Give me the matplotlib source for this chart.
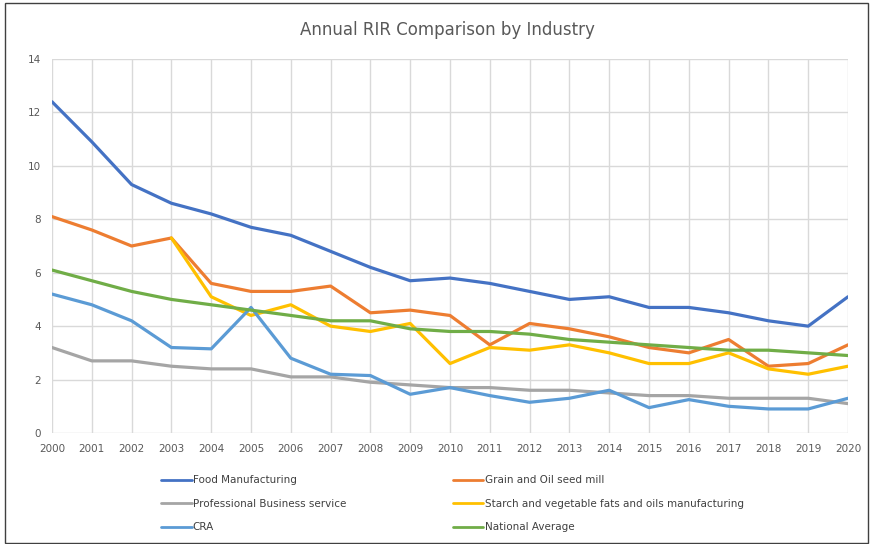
import numpy as np
import matplotlib.pyplot as plt
from matplotlib.patches import Rectangle

# данные
years = list(range(2000, 2021))
food = [12.4, 10.9, 9.3, 8.6, 8.2, 7.7, 7.4, 6.8, 6.2, 5.7, 5.8, 5.6, 5.3, 5.0, 5.1, 4.7, 4.7, 4.5, 4.2, 4.0, 5.1]
grain = [8.1, 7.6, 7.0, 7.3, 5.6, 5.3, 5.3, 5.5, 4.5, 4.6, 4.4, 3.3, 4.1, 3.9, 3.6, 3.2, 3.0, 3.5, 2.5, 2.6, 3.3]
prof = [3.2, 2.7, 2.7, 2.5, 2.4, 2.4, 2.1, 2.1, 1.9, 1.8, 1.7, 1.7, 1.6, 1.6, 1.5, 1.4, 1.4, 1.3, 1.3, 1.3, 1.1]
starch = [np.nan, np.nan, np.nan, 7.3, 5.1, 4.4, 4.8, 4.0, 3.8, 4.1, 2.6, 3.2, 3.1, 3.3, 3.0, 2.6, 2.6, 3.0, 2.4, 2.2, 2.5]
cra = [5.2, 4.8, 4.2, 3.2, 3.15, 4.7, 2.8, 2.2, 2.15, 1.45, 1.7, 1.4, 1.15, 1.3, 1.6, 0.95, 1.25, 1.0, 0.9, 0.9, 1.3]
national = [6.1, 5.7, 5.3, 5.0, 4.8, 4.6, 4.4, 4.2, 4.2, 3.9, 3.8, 3.8, 3.7, 3.5, 3.4, 3.3, 3.2, 3.1, 3.1, 3.0, 2.9]

labels = ['Food Manufacturing', 'Grain and Oil seed mill', 'Professional Business service',
          'Starch and vegetable fats and oils manufacturing', 'CRA', 'National Average']
series = [food, grain, prof, starch, cra, national]
colors = ['#4472C4', '#ED7D31', '#A5A5A5', '#FFC000', '#5B9BD5', '#70AD47']

fig = plt.figure(figsize=(8.75, 5.44), dpi=100)
ax = fig.add_axes([52 / 875, 1 - 433 / 544, 796 / 875, 374 / 544])

lines = []
for vals, lab, c in zip(series, labels, colors):
    ln, = ax.plot(years, vals, color=c, lw=2.3, label=lab, solid_capstyle='round')
    lines.append(ln)

ax.set_xlim(2000, 2020)
ax.set_ylim(0, 14)
ax.set_xticks(years)
ax.set_yticks(range(0, 15, 2))
ax.tick_params(length=0, labelsize=7.5, colors='#595959', pad=8)
ax.grid(True, color='#D9D9D9', lw=1)
ax.set_axisbelow(True)
for s in ax.spines.values():
    s.set_visible(False)

fig.text(447 / 875, 1 - 30 / 544, 'Annual RIR Comparison by Industry',
         ha='center', va='center', fontsize=12, color='#595959')

# порядок легенды: по строкам, как в Excel
order = [0, 2, 4, 1, 3, 5]
leg = fig.legend([lines[i] for i in order], [labels[i] for i in order],
                 ncol=2, loc='upper left', bbox_to_anchor=(152 / 875, 1 - 466 / 544),
                 frameon=False, fontsize=7.5, handlelength=2.9, handletextpad=0.1,
                 columnspacing=10.3, labelspacing=1.3)
for t in leg.get_texts():
    t.set_color('#404040')
for h in leg.legend_handles:
    h.set_linewidth(2)

# рамка вокруг диаграммы
fig.add_artist(Rectangle((5 / 875, 0.002), 863 / 875, 0.993, transform=fig.transFigure,
                         fill=False, ec='#404040', lw=1))

fig.savefig('out.png', dpi=100)
